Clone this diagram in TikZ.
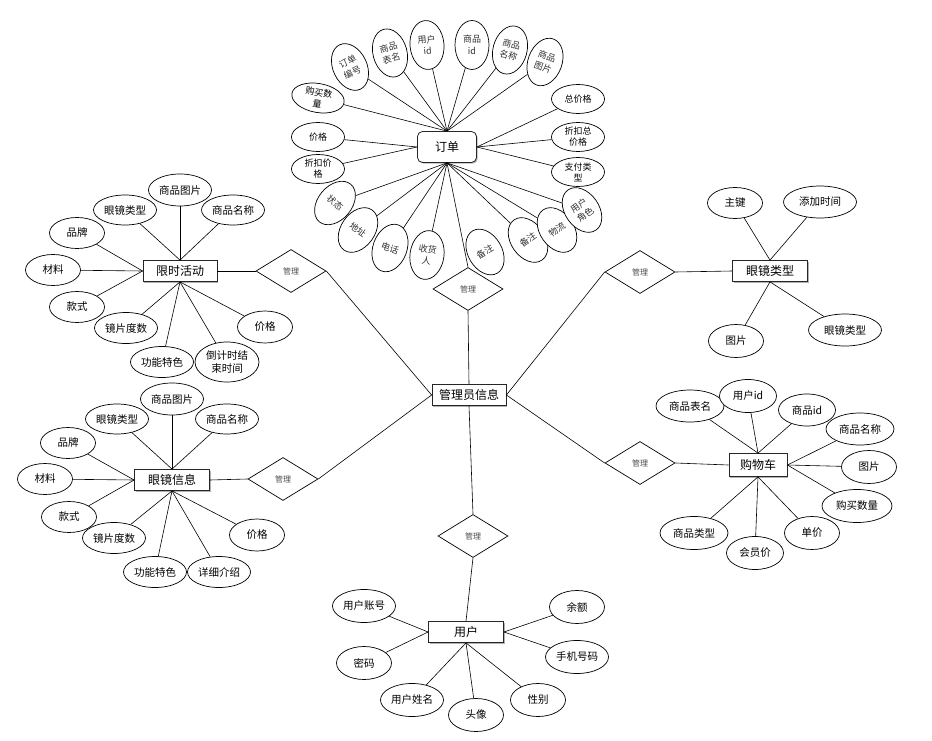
\documentclass[tikz,border=0pt]{standalone}
\usepackage{fontspec}
\setmainfont{Noto Sans CJK SC}
\usetikzlibrary{shapes.geometric,shadows}

\tikzset{
  ent/.style={draw=black!85, line width=0.8pt, fill=white, minimum width=74pt, minimum height=21pt, inner sep=1pt,
    font=\fontsize{12}{14}\selectfont, drop shadow={shadow xshift=1.2pt,shadow yshift=-1.2pt,opacity=0.3,fill=black}},
  rel/.style={draw, diamond, line width=0.7pt, fill=white, minimum width=70pt, minimum height=43pt, inner sep=0pt,
    font=\fontsize{8}{9}\selectfont, text=black!70},
  attr/.style={draw, ellipse, line width=0.7pt, fill=white, minimum width=55pt, minimum height=31pt, inner sep=0pt,
    align=center, font=\fontsize{10.5}{13}\selectfont},
  hattr/.style={attr, minimum width=53pt, minimum height=29pt, font=\fontsize{9}{11}\selectfont},
  vattr/.style={attr, minimum width=34pt, minimum height=49pt, font=\fontsize{9}{11.5}\selectfont, text=black!80},
  link/.style={line width=0.6pt}
}

\begin{document}
\begin{tikzpicture}[x=1pt,y=-1pt]
		\useasboundingbox (0,0) rectangle (932,741);
		%%%%% ENTITIES %%%%%
		\node[ent, rounded corners=5pt, minimum width=59pt, minimum height=31pt] (order) at (447,147) {订单};
		\node[ent] (flash) at (180,271) {限时活动};
		\node[ent, minimum width=75pt] (glass) at (172,480) {眼镜信息};
		\node[ent, minimum width=75pt] (gtype) at (770,271) {眼镜类型};
		\node[ent, minimum width=58pt, minimum height=23pt] (cart) at (758,465) {购物车};
		\node[ent, minimum width=75pt] (user) at (466,632) {用户};
		\node[ent] (admin) at (469,395) {管理员信息};
		
		%%%%% RELATIONS %%%%%
		\node[rel] (dTop) at (468,289) {管理};
		\node[rel] (dFlash) at (291,271) {管理};
		\node[rel] (dGlass) at (283,479) {管理};
		\node[rel] (dType) at (640,272) {管理};
		\node[rel] (dCart) at (640,463) {管理};
		\node[rel] (dUser) at (473,536) {管理};
		
		%%%%% ORDER %%%%%
		\node[vattr, rotate=25] (oNo) at (350,67) {订单\\编号};
		\node[vattr, rotate=15] (oTab) at (390,53) {商品\\表名};
		\node[vattr, rotate=5] (oUid) at (427,45) {用户\\id};
		\node[vattr] (oGid) at (472,45) {商品\\id};
		\node[vattr, rotate=-15] (oGname) at (510,50) {商品\\名称};
		\node[vattr, rotate=-20] (oPic) at (545,62) {商品\\图片};
		\node[hattr, rotate=-10] (oNum) at (318,98) {购买数\\量};
		\node[hattr] (oPrice) at (318,137) {价格};
		\node[hattr] (oDisc) at (318,169) {折扣价\\格};
		\node[hattr] (oTotal) at (578,99) {总价格};
		\node[hattr] (oDtot) at (578,137) {折扣总\\价格};
		\node[hattr] (oPay) at (578,172) {支付类\\型};
		\node[vattr, rotate=-40] (oState) at (335,203) {状态};
		\node[vattr, rotate=-35] (oAddr) at (358,230) {地址};
		\node[vattr, rotate=-20] (oTel) at (390,248) {电话};
		\node[vattr, rotate=-8] (oRecv) at (427,255) {收货\\人};
		\node[vattr, rotate=30] (oNote) at (485,252) {备注};
		\node[vattr, rotate=35] (oNote2) at (528,240) {备注};
		\node[vattr, rotate=35] (oShip) at (557,230) {物流};
		\node[vattr, rotate=35] (oRole) at (582,210) {用户\\角色};
		
		\foreach \a in {oNum,oNo,oTab,oUid,oGid,oGname,oPic} \draw[link] (order.north) -- (\a);
		\foreach \a in {oPrice,oDisc} \draw[link] (order.west) -- (\a);
		\foreach \a in {oTotal,oDtot,oPay} \draw[link] (order.east) -- (\a);
		\foreach \a in {oState,oAddr,oTel,oRecv,oNote2,oShip,oRole} \draw[link] (order.south) -- (\a);
		
		%%%%% FLASH SALE %%%%%
		\node[attr, minimum width=63pt, minimum height=32pt] (fPic) at (180,190) {商品图片};
		\node[attr, minimum width=63pt, minimum height=30pt] (fType) at (125,210) {眼镜类型};
		\node[attr, minimum width=63pt, minimum height=30pt] (fName) at (233,210) {商品名称};
		\node[attr] (fBrand) at (77,233) {品牌};
		\node[attr] (fMat) at (53,270) {材料};
		\node[attr] (fStyle) at (77,307) {款式};
		\node[attr, minimum width=63pt] (fDeg) at (126,328) {镜片度数};
		\node[attr, minimum width=63pt] (fFunc) at (162,362) {功能特色};
		\node[attr, minimum width=64pt, minimum height=40pt] (fEnd) at (227,362) {倒计时结\\束时间};
		\node[attr, minimum height=32pt] (fPrice) at (265,327) {价格};
		
		\foreach \a in {fType,fPic,fName} \draw[link] (flash.north) -- (\a);
		\foreach \a in {fBrand,fMat,fStyle} \draw[link] (flash.west) -- (\a);
		\foreach \a in {fDeg,fFunc,fEnd,fPrice} \draw[link] (flash.south) -- (\a);
		
		%%%%% GLASSES %%%%%
		\node[attr, minimum width=63pt, minimum height=32pt] (gPic) at (172,399) {商品图片};
		\node[attr, minimum width=63pt, minimum height=30pt] (gType) at (117,419) {眼镜类型};
		\node[attr, minimum width=63pt, minimum height=30pt] (gName) at (227,419) {商品名称};
		\node[attr] (gBrand) at (68,443) {品牌};
		\node[attr] (gMat) at (45,479) {材料};
		\node[attr] (gStyle) at (69,517) {款式};
		\node[attr, minimum width=63pt] (gDeg) at (114,538) {镜片度数};
		\node[attr, minimum width=63pt] (gFunc) at (155,572) {功能特色};
		\node[attr, minimum width=63pt] (gIntro) at (219,572) {详细介绍};
		\node[attr, minimum height=32pt] (gPrice) at (257,535) {价格};
		
		\foreach \a in {gType,gPic,gName} \draw[link] (glass.north) -- (\a);
		\foreach \a in {gBrand,gMat,gStyle} \draw[link] (glass.west) -- (\a);
		\foreach \a in {gDeg,gFunc,gIntro,gPrice} \draw[link] (glass.south) -- (\a);
		
		%%%%% GLASSES TYPE %%%%%
		\node[attr] (tKey) at (735,203) {主键};
		\node[attr, minimum width=73pt, minimum height=32pt] (tTime) at (820,202) {添加时间};
		\node[attr, minimum height=33pt] (tPic) at (736,341) {图片};
		\node[attr, minimum width=73pt, minimum height=32pt] (tType) at (845,330) {眼镜类型};
		
		\foreach \a in {tKey,tTime} \draw[link] (gtype.north) -- (\a);
		\foreach \a in {tPic,tType} \draw[link] (gtype.south) -- (\a);
		
		%%%%% CART %%%%%
		\node[attr, minimum width=68pt, minimum height=32pt] (cTab) at (690,406) {商品表名};
		\node[attr, minimum width=57pt, minimum height=33pt] (cUid) at (748,396) {用户id};
		\node[attr, minimum width=57pt, minimum height=32pt] (cGid) at (807,410) {商品id};
		\node[attr, minimum width=68pt, minimum height=32pt] (cName) at (860,429) {商品名称};
		\node[attr, minimum height=33pt] (cPic) at (869,467) {图片};
		\node[attr, minimum width=70pt, minimum height=33pt] (cNum) at (857,506) {购买数量};
		\node[attr, minimum height=33pt] (cUnit) at (812,533) {单价};
		\node[attr, minimum width=57pt, minimum height=33pt] (cVip) at (755,553) {会员价};
		\node[attr, minimum width=68pt, minimum height=33pt] (cKind) at (694,533) {商品类型};
		
		\foreach \a in {cTab,cUid,cGid} \draw[link] (cart.north) -- (\a);
		\foreach \a in {cName,cPic,cNum} \draw[link] (cart.east) -- (\a);
		\foreach \a in {cUnit,cVip,cKind} \draw[link] (cart.south) -- (\a);
		
		%%%%% USER %%%%%
		\node[attr, minimum width=63pt, minimum height=33pt] (uAcc) at (364,606) {用户账号};
		\node[attr, minimum height=33pt] (uPwd) at (364,663) {密码};
		\node[attr, minimum width=63pt, minimum height=33pt] (uName) at (412,700) {用户姓名};
		\node[attr, minimum height=33pt] (uHead) at (476,715) {头像};
		\node[attr, minimum height=33pt] (uSex) at (538,700) {性别};
		\node[attr, minimum height=33pt] (uBal) at (577,607) {余额};
		\node[attr, minimum width=63pt, minimum height=33pt] (uTel) at (577,657) {手机号码};
		
		\foreach \a in {uAcc,uPwd} \draw[link] (user.west) -- (\a);
		\foreach \a in {uBal,uTel} \draw[link] (user.east) -- (\a);
		\foreach \a in {uName,uHead,uSex} \draw[link] (user.south) -- (\a);
		
		%%%%% RELATION LINKS %%%%%
		\draw[link] (dFlash.west) -- (flash.east);
		\draw[link] (dGlass.west) -- (glass.east);
		\draw[link] (dType.east) -- (gtype.west);
		\draw[link] (dCart.east) -- (cart.west);
		\draw[link] (admin.west) -- (dFlash.east);
		\draw[link] (admin.west) -- (dGlass.east);
		\draw[link] (admin.east) -- (dType.west);
		\draw[link] (admin.east) -- (dCart.west);
		\draw[link] (admin.north) -- (dTop.south);
		\draw[link] (dTop.north) -- (order.south);
		\draw[link] (admin.south) -- (dUser.north);
		\draw[link] (dUser.south) -- (user.north);
\end{tikzpicture}
\end{document}
